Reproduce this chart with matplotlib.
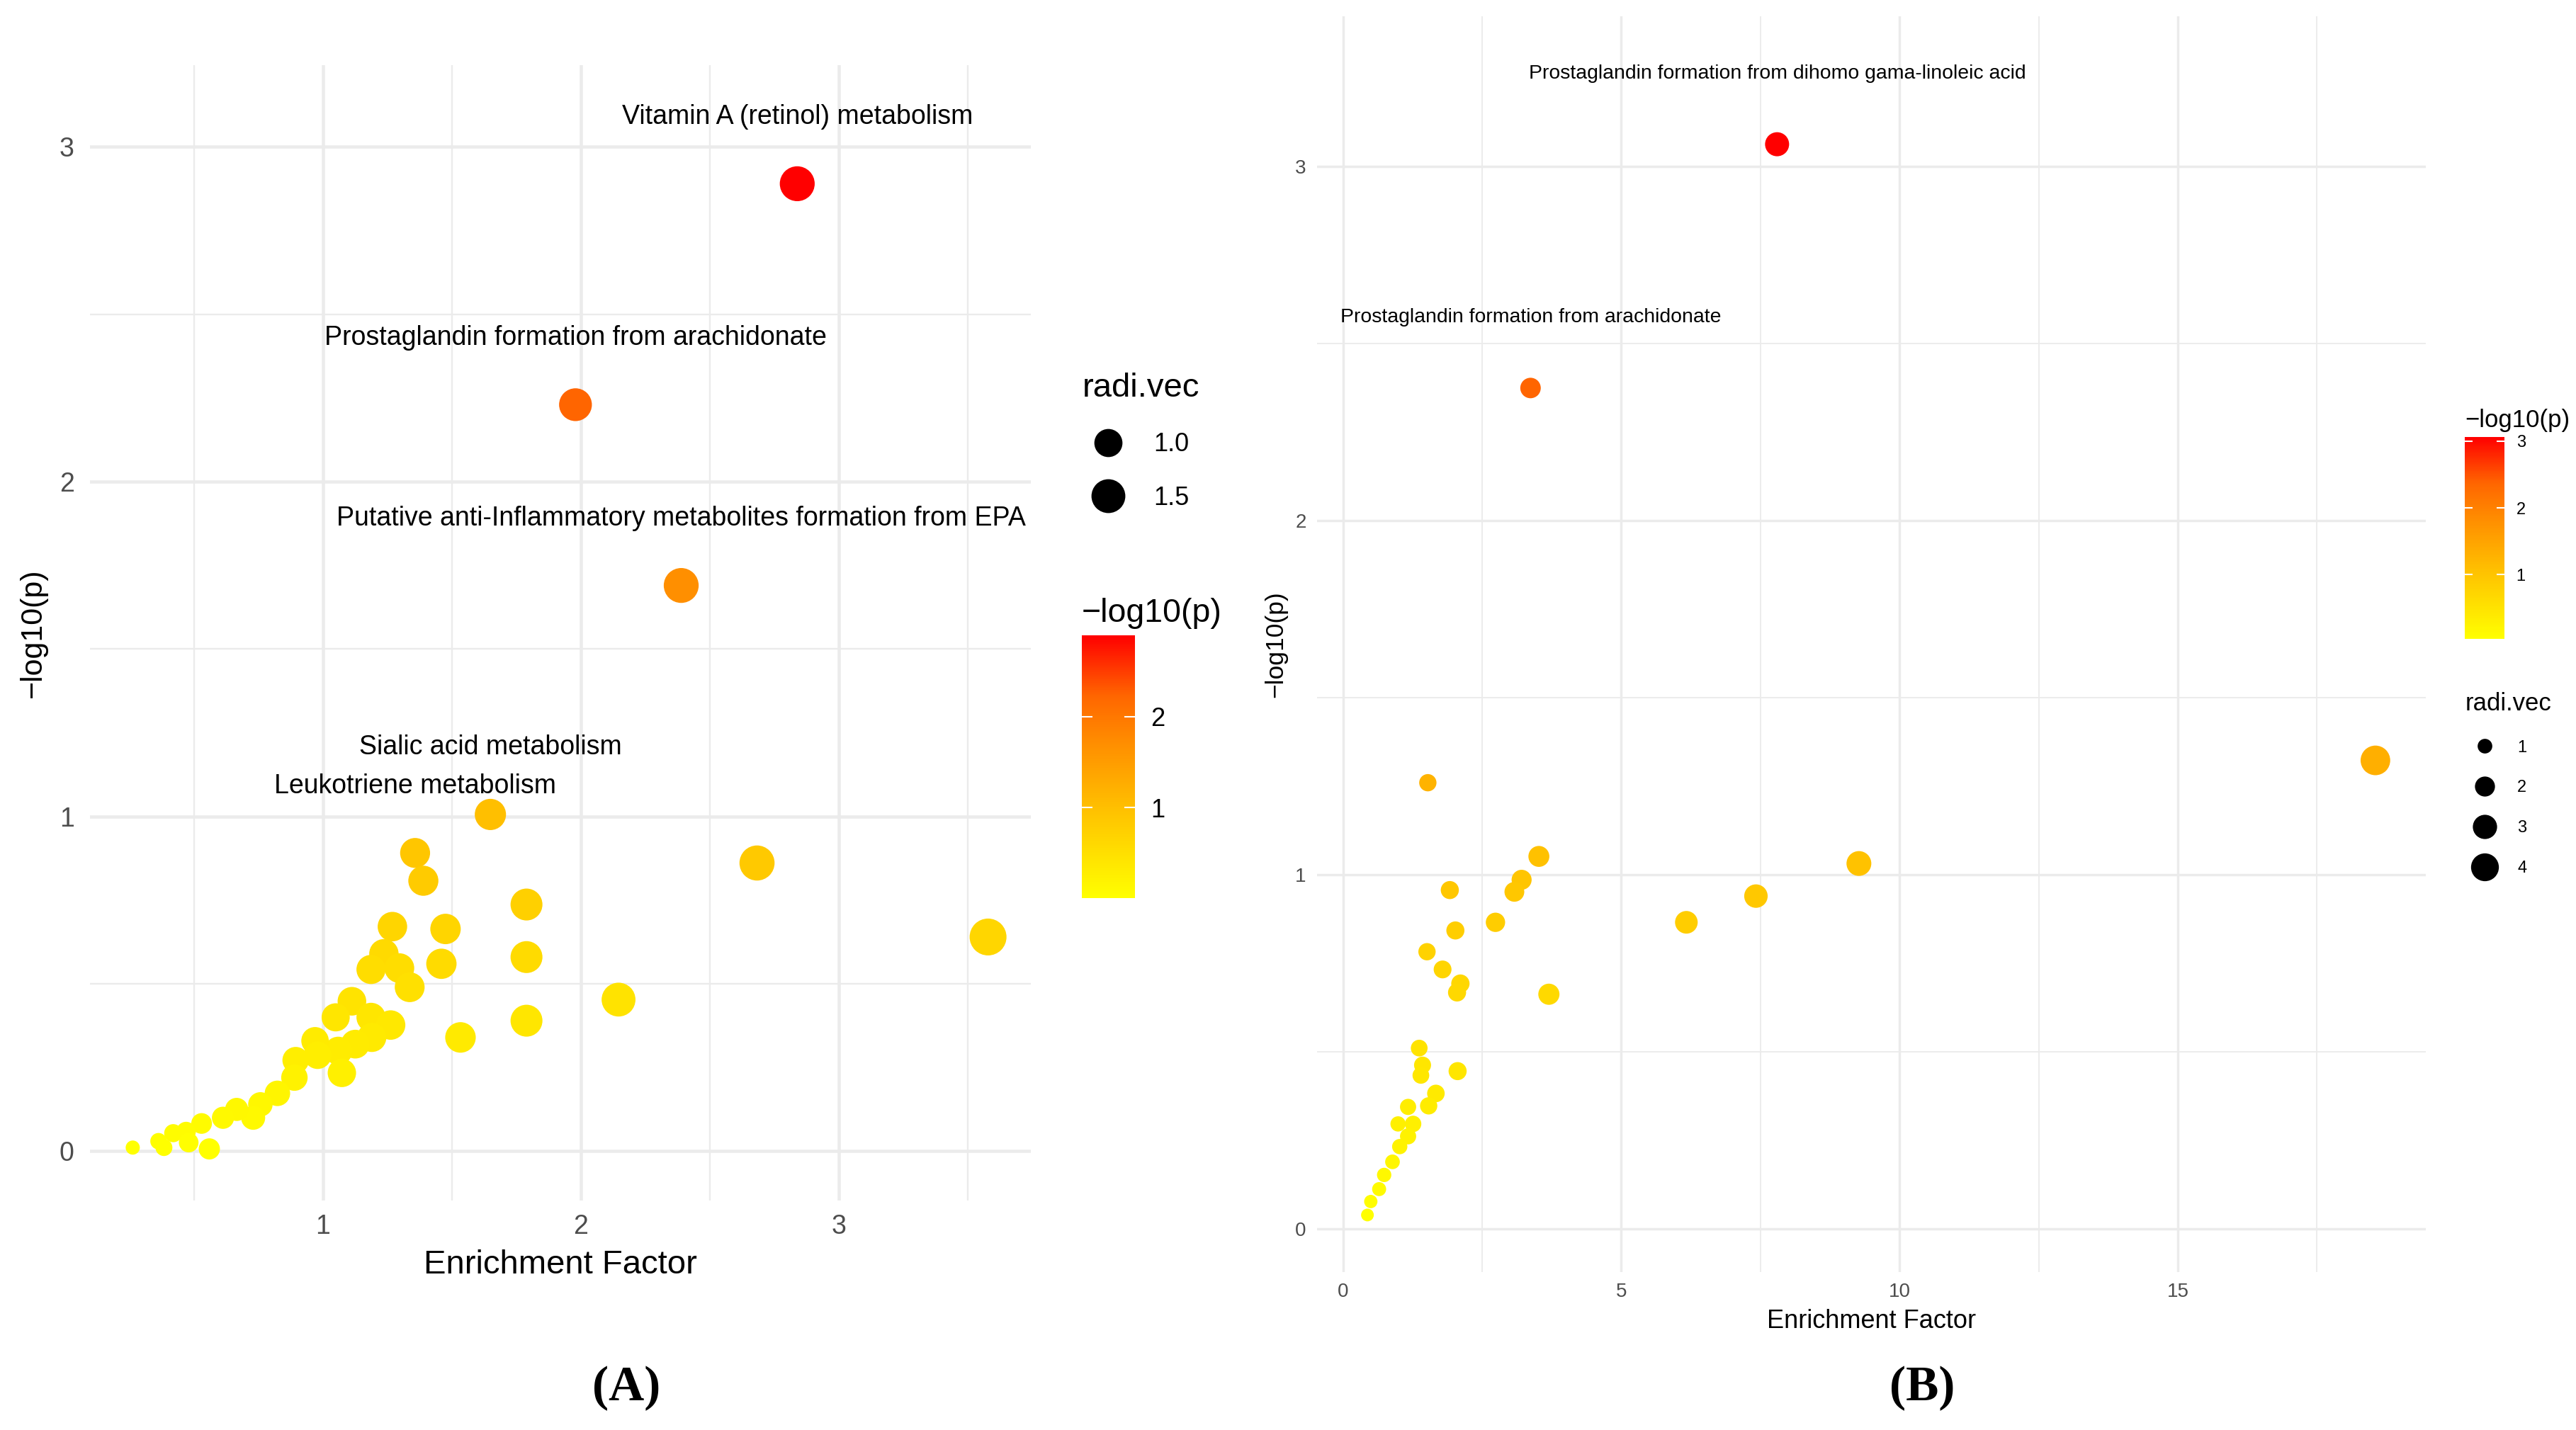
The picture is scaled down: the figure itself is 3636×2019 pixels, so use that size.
import numpy as np
import matplotlib
matplotlib.use("Agg")
import matplotlib.pyplot as plt
import matplotlib.cm as cm
from matplotlib.colors import LinearSegmentedColormap, Normalize
from matplotlib.lines import Line2D
from matplotlib.ticker import MultipleLocator

plt.rcParams['font.family'] = ['Liberation Sans', 'DejaVu Sans']

# ---- panel A data (enrichment factor, -log10(p), radi.vec) ----
ef_a = [2.84, 1.98, 2.39, 1.65, 1.358, 1.39, 2.684, 3.58, 1.79, 1.27,
        1.476, 1.237, 1.187, 1.297, 1.337, 1.46, 1.79, 2.147, 1.79, 1.534,
        1.113, 1.05, 1.187, 1.263, 1.19, 1.126, 1.06, 0.97, 1.074, 0.98,
        0.895, 0.89, 0.824, 0.758, 0.73, 0.666, 0.613, 0.53, 0.47, 0.42,
        0.363, 0.384, 0.48, 0.56, 0.263]
logp_a = [2.89, 2.23, 1.69, 1.006, 0.891, 0.808, 0.861, 0.64, 0.737, 0.671,
          0.664, 0.59, 0.543, 0.547, 0.49, 0.56, 0.58, 0.453, 0.39, 0.34,
          0.448, 0.40, 0.40, 0.377, 0.34, 0.32, 0.30, 0.33, 0.234, 0.287,
          0.272, 0.22, 0.173, 0.14, 0.10, 0.125, 0.10, 0.083, 0.059, 0.054,
          0.03, 0.011, 0.026, 0.007, 0.011]
radi_a = [1.60, 1.40, 1.60, 1.26, 1.15, 1.16, 1.62, 1.80, 1.32, 1.11,
          1.19, 1.10, 1.08, 1.13, 1.14, 1.18, 1.32, 1.50, 1.32, 1.20,
          1.04, 1.00, 1.08, 1.11, 1.08, 1.05, 1.01, 0.95, 1.02, 0.96,
          0.88, 0.87, 0.80, 0.73, 0.70, 0.64, 0.58, 0.49, 0.42, 0.35,
          0.27, 0.29, 0.43, 0.52, 0.17]
labels_a = ["Vitamin A (retinol) metabolism",
            "Prostaglandin formation from arachidonate",
            "Putative anti-Inflammatory metabolites formation from EPA",
            "Sialic acid metabolism",
            "Leukotriene metabolism"]

# ---- panel B data ----
ef_b = [7.80, 3.37, 18.55, 1.525, 3.52, 9.27, 3.21, 3.08, 1.92, 7.42,
        6.17, 2.74, 2.02, 1.51, 1.79, 2.11, 2.05, 3.70, 1.37, 1.43,
        1.40, 2.06, 1.67, 1.54, 1.17, 0.99, 1.26, 1.17, 1.02, 0.89,
        0.74, 0.65, 0.50, 0.44]
logp_b = [3.062, 2.374, 1.323, 1.26, 1.052, 1.032, 0.986, 0.952, 0.957, 0.94,
          0.866, 0.866, 0.843, 0.783, 0.733, 0.693, 0.668, 0.663, 0.511, 0.463,
          0.434, 0.446, 0.383, 0.348, 0.345, 0.297, 0.297, 0.262, 0.233, 0.19,
          0.153, 0.113, 0.078, 0.04]
radi_b = [2.95, 2.10, 4.55, 1.45, 2.20, 3.15, 2.00, 1.95, 1.60, 2.80,
          2.60, 1.85, 1.60, 1.45, 1.55, 1.65, 1.60, 2.25, 1.35, 1.40,
          1.35, 1.60, 1.50, 1.45, 1.25, 1.10, 1.30, 1.25, 1.10, 1.00,
          0.95, 0.90, 0.80, 0.72]
labels_b = ["Prostaglandin formation from dihomo gama-linoleic acid",
            "Prostaglandin formation from arachidonate"]

size_breaks_a = [1.0, 1.5]
size_breaks_b = [1, 2, 3, 4]

DPI = 100
W, H = 3637, 2019
fig = plt.figure(figsize=(W / DPI, H / DPI), dpi=DPI)

cmap = LinearSegmentedColormap.from_list(
    "yr", [(0, "#FFFF00"), (0.34, "#FFC000"), (0.58, "#FF9000"),
           (0.77, "#FF6600"), (1, "#FF0000")])


def box(x0, y0, x1, y1):
    # pixel box -> figure fraction rect
    return [x0 / W, 1 - y1 / H, (x1 - x0) / W, (y1 - y0) / H]


def dot_pt(v, a, b):
    # dot diameter in points, area linear in radi.vec
    return np.sqrt(a + b * np.asarray(v, dtype=float)) * 72 / DPI


def expand(lo, hi):
    d = (hi - lo) * 0.05
    return lo - d, hi + d


def panel(rect, ef, lp, radi, labels, sa, sb, p):
    ax = fig.add_axes(rect)
    norm = Normalize(min(lp), max(lp))
    ax.scatter(ef, lp, s=dot_pt(radi, sa, sb) ** 2, c=lp, cmap=cmap, norm=norm,
               linewidths=0, zorder=3)
    for i, lab in enumerate(labels):
        ax.text(ef[i], lp[i] + 0.2, lab, ha="center", va="center",
                fontsize=p["ann"], color="black", zorder=4)
    lab_y = [lp[i] + 0.2 for i in range(len(labels))]
    ax.set_xlim(*expand(min(ef), max(ef)))
    ax.set_ylim(*expand(min(lp + lab_y), max(lp + lab_y)))
    ax.xaxis.set_major_locator(MultipleLocator(p["xmaj"]))
    ax.xaxis.set_minor_locator(MultipleLocator(p["xmaj"] / 2))
    ax.yaxis.set_major_locator(MultipleLocator(1))
    ax.yaxis.set_minor_locator(MultipleLocator(0.5))
    ax.grid(which="major", color="#EBEBEB", lw=p["gmaj"], zorder=0)
    ax.grid(which="minor", color="#EBEBEB", lw=p["gmin"], zorder=0)
    ax.set_axisbelow(True)
    for s in ax.spines.values():
        s.set_visible(False)
    ax.tick_params(which="both", length=0, labelsize=p["tick"], labelcolor="#4D4D4D")
    ax.tick_params(axis="x", pad=p["xpad"])
    ax.tick_params(axis="y", pad=p["ypad"])
    ax.set_xlabel("Enrichment Factor", fontsize=p["xt"], labelpad=p["xlp"])
    ax.set_ylabel("\u2212log10(p)", fontsize=p["yt"], labelpad=p["ylp"])
    return ax, norm


pa = dict(ann=27, xmaj=1, gmaj=3.3, gmin=1.7, tick=27, xpad=14, ypad=16,
          xt=34, yt=31, xlp=10, ylp=12)
pb = dict(ann=20.4, xmaj=5, gmaj=2.5, gmin=1.3, tick=20, xpad=11, ypad=11,
          xt=26, yt=25.5, xlp=8, ylp=8)

ax_a, norm_a = panel(box(127, 92, 1455, 1695), ef_a, logp_a, radi_a, labels_a, 158, 1418, pa)
ax_b, norm_b = panel(box(1859, 23, 3424, 1796), ef_b, logp_b, radi_b, labels_b, 56, 372, pb)

# colour bars
def colorbar(rect, norm, ticks, fs_title, fs_tick, tlen, pad_title, pad_tick):
    cax = fig.add_axes(rect)
    cb = fig.colorbar(cm.ScalarMappable(norm=norm, cmap=cmap), cax=cax)
    cb.outline.set_visible(False)
    cb.set_ticks(ticks)
    cax.tick_params(direction="in", length=tlen, width=1.5, color="white",
                    left=True, right=True, labelsize=fs_tick, pad=pad_tick)
    cax.set_title("\u2212log10(p)", loc="left", fontsize=fs_title, pad=pad_title)
    return cax


colorbar(box(1527, 897, 1602, 1268), norm_a, [1, 2], 33.5, 26, 11, 14, 16)
colorbar(box(3479, 617, 3535, 902), norm_b, [1, 2, 3], 25, 17, 8, 10, 12)

# size legends
def size_legend(breaks, fmt, sa, sb, anchor, fs_title, fs_lab, hl, htp, ls):
    handles = [Line2D([], [], ls="", marker="o", color="black",
                      markeredgewidth=0, markersize=float(dot_pt(v, sa, sb)))
               for v in breaks]
    fig.legend(handles, [fmt.format(v) for v in breaks], title="radi.vec",
               loc="upper left", bbox_to_anchor=anchor, frameon=False,
               borderpad=0, borderaxespad=0, fontsize=fs_lab,
               title_fontsize=fs_title, alignment="left", handlelength=hl,
               handletextpad=htp, labelspacing=ls)


size_legend(size_breaks_a, "{:.1f}", 158, 1418, (1528 / W, 1 - 526 / H), 34, 26, 2.0, 0.77, 1.12)
size_legend(size_breaks_b, "{:d}", 56, 372, (3480 / W, 1 - 977 / H), 25, 17, 2.3, 0.8, 1.47)

fig.text(884 / W, 1 - 1960 / H, "(A)", ha="center", va="center", fontsize=50,
         fontweight="bold", family=["Liberation Serif", "DejaVu Serif"])
fig.text(2713 / W, 1 - 1960 / H, "(B)", ha="center", va="center", fontsize=50,
         fontweight="bold", family=["Liberation Serif", "DejaVu Serif"])

fig.savefig("out.png", dpi=DPI, facecolor="white")
